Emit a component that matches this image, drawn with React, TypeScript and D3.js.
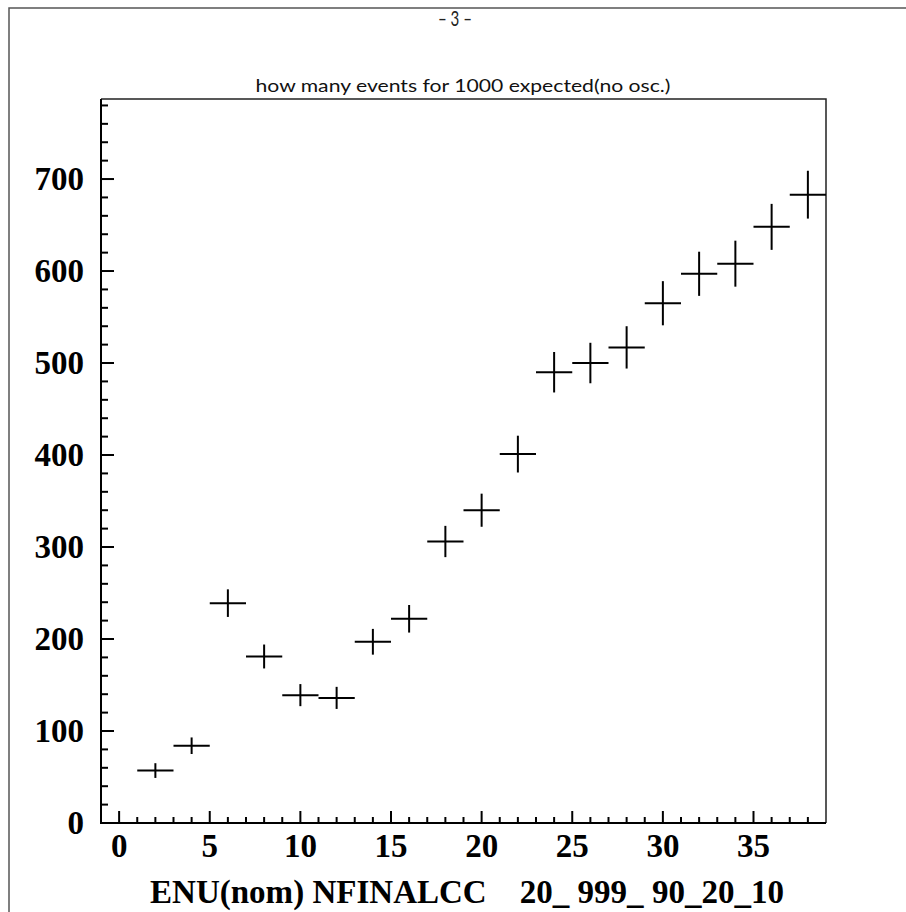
import React, { useEffect, useRef } from "react";
import * as d3 from "d3";

// bin centres (ENU), counts and their error bars
const binCentres = [2, 4, 6, 8, 10, 12, 14, 16, 18, 20, 22, 24, 26, 28, 30, 32, 34, 36, 38];
const counts = [57, 84, 239, 181, 139, 136, 197, 222, 306, 340, 401, 490, 500, 517, 565, 597, 608, 648, 683];
const errors = [8, 9, 15, 13, 12, 12, 14, 15, 17, 18, 20, 22, 22, 23, 24, 24, 25, 25, 26];
const binHalfWidth = 1;

const xTicks = [0, 5, 10, 15, 20, 25, 30, 35];
const yTicks = [0, 100, 200, 300, 400, 500, 600, 700];

const pageLabel = "– 3 –";
const title = "how many events for 1000 expected(no osc.)";
const xTitle = "ENU(nom) NFINALCC    20_ 999_ 90_20_10";

export default function App() {
  const svgRef = useRef<SVGSVGElement>(null);

  useEffect(() => {
    const svg = d3.select(svgRef.current);
    svg.selectAll("*").remove();

    const left = 101, right = 826, top = 99, bottom = 823;
    const x = d3.scaleLinear().domain([-1, 39]).range([left, right]);
    const y = d3.scaleLinear().domain([0, 787]).range([bottom, top]);

    // page frame
    svg.append("path")
      .attr("d", `M9,912 V8 H906`)
      .attr("fill", "none")
      .attr("stroke", "#555")
      .attr("stroke-width", 1.5);

    svg.append("text")
      .attr("x", 455).attr("y", 26)
      .attr("text-anchor", "middle")
      .attr("font-family", "Lato, DejaVu Sans, sans-serif")
      .attr("font-size", 21)
      .attr("fill", "#222")
      .attr("textLength", 34)
      .attr("lengthAdjust", "spacingAndGlyphs")
      .style("white-space", "pre")
      .text(pageLabel);

    svg.append("text")
      .attr("x", 463).attr("y", 92)
      .attr("text-anchor", "middle")
      .attr("font-family", "Lato, Liberation Sans, sans-serif")
      .attr("font-size", 17)
      .attr("fill", "#111")
      .attr("textLength", 415)
      .attr("lengthAdjust", "spacingAndGlyphs")
      .text(title);

    // frame lines top/right
    svg.append("path")
      .attr("d", `M${left},${top} H${right} V${bottom}`)
      .attr("fill", "none")
      .attr("stroke", "#222")
      .attr("stroke-width", 1.5);

    // y axis with inward ticks
    const yAxis = svg.append("g");
    yAxis.append("line")
      .attr("x1", left).attr("x2", left)
      .attr("y1", top).attr("y2", bottom + 1)
      .attr("stroke", "#000").attr("stroke-width", 2);
    const yMinor = d3.range(0, 787, 20);
    yAxis.selectAll(".ytick")
      .data(yMinor)
      .join("line")
      .attr("class", "ytick")
      .attr("x1", left)
      .attr("x2", d => left + (d % 100 === 0 ? 13 : 7))
      .attr("y1", d => y(d)).attr("y2", d => y(d))
      .attr("stroke", "#000").attr("stroke-width", 2);
    yAxis.selectAll(".ylabel")
      .data(yTicks)
      .join("text")
      .attr("class", "ylabel")
      .attr("x", 84)
      .attr("y", d => y(d) + 11)
      .attr("text-anchor", "end")
      .attr("font-family", "Liberation Serif, serif")
      .attr("font-weight", "bold")
      .attr("font-size", 33)
      .text(d => d);

    // x axis with inward ticks
    const xAxis = svg.append("g");
    xAxis.append("line")
      .attr("x1", left - 1).attr("x2", right)
      .attr("y1", bottom).attr("y2", bottom)
      .attr("stroke", "#000").attr("stroke-width", 2);
    const xMinor = d3.range(0, 39, 1);
    xAxis.selectAll(".xtick")
      .data(xMinor)
      .join("line")
      .attr("class", "xtick")
      .attr("x1", d => x(d)).attr("x2", d => x(d))
      .attr("y1", bottom)
      .attr("y2", d => bottom - (d % 5 === 0 ? 12 : 6))
      .attr("stroke", "#000").attr("stroke-width", 2);
    xAxis.selectAll(".xlabel")
      .data(xTicks)
      .join("text")
      .attr("class", "xlabel")
      .attr("x", d => x(d))
      .attr("y", 857)
      .attr("text-anchor", "middle")
      .attr("font-family", "Liberation Serif, serif")
      .attr("font-weight", "bold")
      .attr("font-size", 33)
      .text(d => d);

    svg.append("text")
      .attr("x", 467).attr("y", 903)
      .attr("text-anchor", "middle")
      .attr("font-family", "Liberation Serif, serif")
      .attr("font-weight", "bold")
      .attr("font-size", 34)
      .attr("textLength", 634)
      .attr("lengthAdjust", "spacingAndGlyphs")
      .style("white-space", "pre")
      .text(xTitle);

    // error-bar crosses
    const pts = binCentres.map((c, i) => ({ c, v: counts[i], e: errors[i] }));
    const g = svg.append("g").attr("stroke", "#000").attr("stroke-width", 2);
    g.selectAll(".hbar")
      .data(pts)
      .join("line")
      .attr("class", "hbar")
      .attr("x1", d => x(d.c - binHalfWidth))
      .attr("x2", d => x(d.c + binHalfWidth))
      .attr("y1", d => y(d.v)).attr("y2", d => y(d.v));
    g.selectAll(".vbar")
      .data(pts)
      .join("line")
      .attr("class", "vbar")
      .attr("x1", d => x(d.c)).attr("x2", d => x(d.c))
      .attr("y1", d => y(d.v - d.e)).attr("y2", d => y(d.v + d.e));
  }, []);

  return (
    <svg
      ref={svgRef}
      width={906}
      height={912}
      style={{ position: "absolute", left: 0, top: 0, display: "block", background: "#fff" }}
    />
  );
}
